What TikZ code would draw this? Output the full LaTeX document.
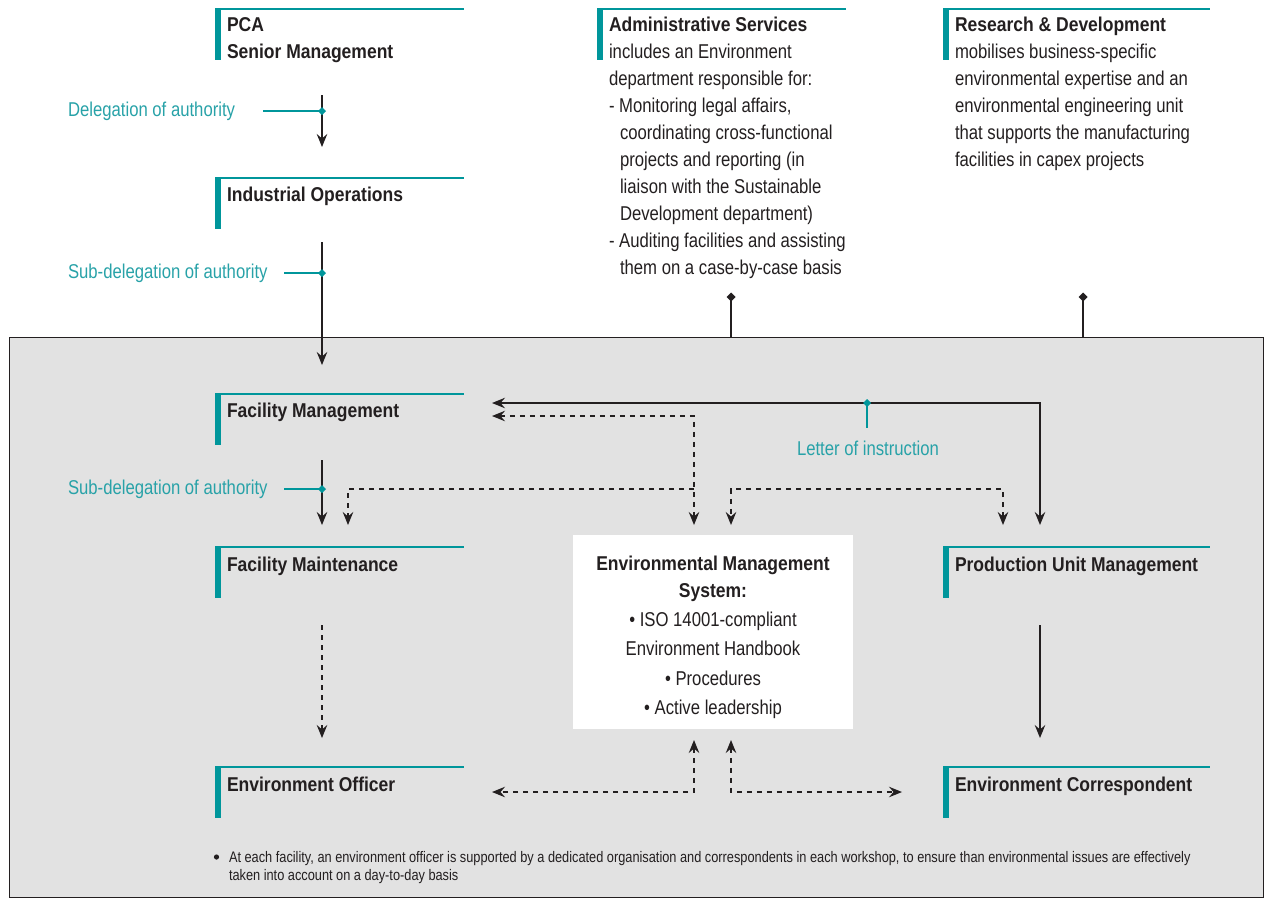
\documentclass[tikz,border=0pt]{standalone}
\usepackage{fontspec}
\setmainfont{Liberation Sans}[FakeStretch=0.835, BoldFeatures={FakeStretch=0.875}]
\usetikzlibrary{arrows.meta}
\definecolor{tealline}{RGB}{0,150,155}
\definecolor{tealtxt}{RGB}{40,162,168}
\definecolor{greybg}{RGB}{226,226,226}
\definecolor{ink}{RGB}{35,31,32}
\newcommand\hdrdeco[3]{%
  \fill[tealline] (#1,#2) rectangle ++(6,51);
  \draw[tealline, line width=2pt] (#1,#2) -- (#3,#2);
}
\newcommand\tealdia[1]{\fill[tealline] (#1) +(-4,0) -- +(0,-4) -- +(4,0) -- +(0,4) -- cycle;}
\newcommand\blackdia[1]{\fill[ink] (#1) +(-4.5,0) -- +(0,-4.5) -- +(4.5,0) -- +(0,4.5) -- cycle;}
\begin{document}
\begin{tikzpicture}[x=1pt,y=-1pt,
  every node/.style={inner sep=0pt, outer sep=0pt, text=ink},
  body/.style={font=\fontsize{20}{27}\selectfont, align=left, anchor=north west},
  hd/.style={body, font=\fontsize{20}{27}\selectfont\bfseries},
  lbl/.style={font=\fontsize{20}{27}\selectfont, text=tealtxt, anchor=west},
  conn/.style={draw=ink, line width=1.3pt},
  tip/.style={-{Stealth[length=13pt,width=10.5pt,inset=4.5pt]}},
  bitip/.style={{Stealth[length=13pt,width=10.5pt,inset=4.5pt]}-{Stealth[length=13pt,width=10.5pt,inset=4.5pt]}},
  dconn/.style={conn, dash pattern=on 5pt off 5pt},
  tealconn/.style={draw=tealline, line width=1.3pt}
]
\useasboundingbox (0,0) rectangle (1265,898);

% grey area
\fill[greybg, draw=ink, line width=1pt] (9,337) rectangle (1263,897);

% header decorations
\hdrdeco{215}{9}{464}
\hdrdeco{597}{9}{846}
\hdrdeco{943}{9}{1210}
\hdrdeco{215}{178}{464}
\hdrdeco{215}{394}{464}
\hdrdeco{215}{547}{464}
\hdrdeco{943}{547}{1210}
\hdrdeco{215}{767}{464}
\hdrdeco{943}{767}{1210}

% header texts
\node[hd] (pca) at (227,18) {PCA\\Senior Management};
\node[hd] (indops) at (227,187) {Industrial Operations};
\node[hd] (facmgmt) at (227,403) {Facility Management};
\node[hd] (facmaint) at (227,557) {Facility Maintenance};
\node[hd] (envoff) at (227,777) {Environment Officer};
\node[hd] (produnit) at (955,557) {Production Unit Management};
\node[hd] (envcorr) at (955,777) {Environment Correspondent};

\node[body] (admin) at (609,17) {\textbf{Administrative Services}\\
includes an Environment\\
department responsible for:\\
- Monitoring legal affairs,\\
\hspace*{11pt}coordinating cross-functional\\
\hspace*{11pt}projects and reporting (in\\
\hspace*{11pt}liaison with the Sustainable\\
\hspace*{11pt}Development department)\\
- Auditing facilities and assisting\\
\hspace*{11pt}them on a case-by-case basis};

\node[body] (rnd) at (955,17) {\textbf{Research \& Development}\\
mobilises business-specific\\
environmental expertise and an\\
environmental engineering unit\\
that supports the manufacturing\\
facilities in capex projects};

% EMS box
\fill[white] (573,535) rectangle (853,729);
\node[font=\fontsize{20}{27}\selectfont, align=center, anchor=north] (ems) at (713,556) {%
\textbf{Environmental Management}\\
\textbf{System:}\\[2pt]
• ISO 14001-compliant\\[2pt]
Environment Handbook\\[3pt]
• Procedures\\[2pt]
• Active leadership};

% labels
\node[lbl] (deleg) at (68,111) {Delegation of authority};
\node[lbl] (subdeleg1) at (68,273) {Sub-delegation of authority};
\node[lbl] (subdeleg2) at (68,489) {Sub-delegation of authority};
\node[font=\fontsize{20}{27}\selectfont, text=tealtxt, anchor=center] (letter) at (868,448) {Letter of instruction};

% coordinates
\coordinate (a1s) at (322,95);   \coordinate (a1e) at (322,147);
\coordinate (a2s) at (322,242);  \coordinate (a2e) at (322,365);
\coordinate (a3s) at (322,460);  \coordinate (a3e) at (322,525);
\coordinate (t1) at (263,111);   \coordinate (j1) at (322,111);
\coordinate (t2) at (284,273);   \coordinate (j2) at (322,273);
\coordinate (t3) at (284,489);   \coordinate (j3) at (322,489);

% delegation arrows
\draw[conn, tip] (a1s) -- (a1e);
\draw[conn, tip] (a2s) -- (a2e);
\draw[conn, tip] (a3s) -- (a3e);
\draw[tealconn] (t1) -- (j1); \tealdia{j1}
\draw[tealconn] (t2) -- (j2); \tealdia{j2}
\draw[tealconn] (t3) -- (j3); \tealdia{j3}

% top diamonds to grey box
\coordinate (dA) at (731,297); \coordinate (dAb) at (731,337);
\coordinate (dR) at (1083,297); \coordinate (dRb) at (1083,337);
\draw[conn] (dA) -- (dAb); \blackdia{dA}
\draw[conn] (dR) -- (dRb); \blackdia{dR}

% letter of instruction
\coordinate (fmR) at (492,403);
\coordinate (puT) at (1040,525);
\coordinate (lj) at (867,403);
\coordinate (lje) at (867,428);
\draw[conn, bitip] (fmR) -- (1040,403) -- (puT);
\draw[tealconn] (lj) -- (lje); \tealdia{lj}

% dashed network to EMS
\coordinate (fmR2) at (492,416);
\coordinate (emsTL) at (694,525);
\coordinate (emsTR) at (731,525);
\coordinate (fmaT) at (348,525);
\coordinate (puT2) at (1003,525);
\draw[dconn, bitip] (fmR2) -- (694,416) -- (emsTL);
\draw[dconn, tip] (694,489) -- (348,489) -- (fmaT);
\draw[dconn, bitip] (puT2) -- (1003,489) -- (731,489) -- (emsTR);

% bottom
\coordinate (emsBL) at (694,740);
\coordinate (emsBR) at (731,740);
\coordinate (eoR) at (492,792);
\coordinate (ecL) at (902,792);
\draw[dconn, bitip] (emsBL) -- (694,792) -- (eoR);
\draw[dconn, bitip] (emsBR) -- (731,792) -- (ecL);

% verticals
\coordinate (fmaB) at (322,625); \coordinate (eoT) at (322,738);
\coordinate (puB) at (1040,625); \coordinate (ecT) at (1040,738);
\draw[dconn, tip] (fmaB) -- (eoT);
\draw[conn, tip] (puB) -- (ecT);

% footnote
\fill[ink] (216.5,857) circle (2.6);
\node[font=\fontsize{15.3}{18}\selectfont, align=left, anchor=base west] (foot) at (229,862) {At each facility, an environment officer is supported by a dedicated organisation and correspondents in each workshop, to ensure than environmental issues are effectively};
\node[font=\fontsize{15.3}{18}\selectfont, align=left, anchor=base west] (foot2) at (229,880) {taken into account on a day-to-day basis};
\end{tikzpicture}
\end{document}
